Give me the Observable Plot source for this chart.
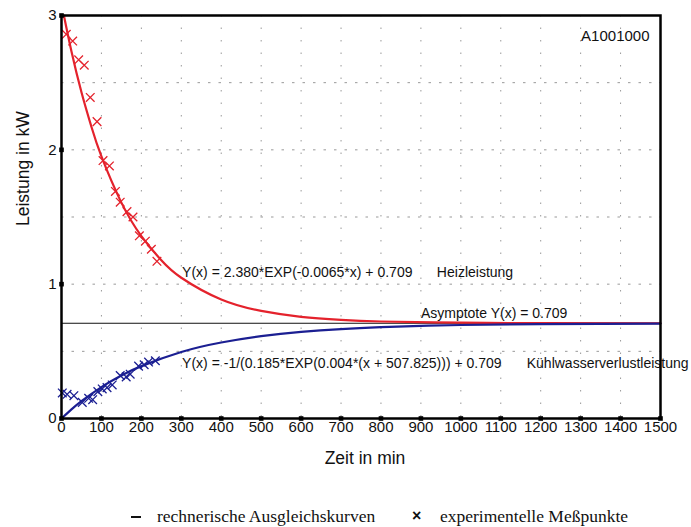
<!DOCTYPE html>
<html><head><meta charset="utf-8">
<script src="https://cdn.jsdelivr.net/npm/d3@7"></script>
<script src="https://cdn.jsdelivr.net/npm/@observablehq/plot@0.6"></script>
<style>
body{margin:0;background:#fff;position:relative;width:691px;height:527px;overflow:hidden;}
.lg{position:absolute;top:505px;font-family:"Liberation Serif","Times New Roman",serif;font-size:17.5px;line-height:22px;color:#111;white-space:nowrap;}
.dash{position:absolute;top:516px;left:131px;width:10px;height:0;border-top:2.6px solid #111;}
.cross{font-family:"Liberation Sans",Arial,sans-serif;font-size:16px;font-weight:bold;}
</style>
</head><body>
<div id="chart"></div>
<div class="dash"></div>
<div class="lg" style="left:157px" id="lg1"></div>
<div class="lg cross" style="left:412px">×</div>
<div class="lg" style="left:440px" id="lg2"></div>
<script>
const heatX = [12, 28, 43, 57, 72, 89, 104, 120, 135, 147, 164, 179, 195, 210, 225, 239];
const heatY = [2.86, 2.81, 2.67, 2.63, 2.39, 2.21, 1.92, 1.88, 1.69, 1.61, 1.54, 1.50, 1.36, 1.32, 1.26, 1.17];
const coolX = [2, 14, 31, 52, 68, 78, 91, 102, 114, 127, 147, 162, 172, 193, 207, 218, 235];
const coolY = [0.19, 0.18, 0.17, 0.12, 0.15, 0.14, 0.20, 0.22, 0.23, 0.25, 0.32, 0.31, 0.33, 0.39, 0.40, 0.42, 0.43];
// Fitted curves
const heatCurveX = [6, 25, 50, 75, 100, 150, 200, 250, 300, 400, 500, 600, 700, 800, 1000, 1200, 1500];
const heatCurveY = [3.0, 2.732, 2.429, 2.171, 1.951, 1.607, 1.358, 1.178, 1.048, 0.886, 0.801, 0.757, 0.734, 0.722, 0.713, 0.710, 0.709];
const coolCurveX = [0, 25, 50, 100, 150, 200, 300, 400, 500, 600, 700, 800, 900, 1000, 1200, 1500];
const coolCurveY = [0, 0.0675, 0.1285, 0.2337, 0.320, 0.390, 0.4955, 0.566, 0.613, 0.645, 0.666, 0.680, 0.690, 0.696, 0.703, 0.707];
const asymptote = 0.709;
// Ticks and labels
const xTicks = d3.range(0, 1501, 100);
const yTicks = [0, 1, 2, 3];
const xGrid = d3.range(100, 1500, 100);
const yGrid = [0.5, 1, 1.5, 2, 2.5];
const annotations = [
  {x: 302, y: 1.085, text: "Y(x) = 2.380*EXP(-0.0065*x) + 0.709"},
  {x: 940, y: 1.085, text: "Heizleistung"},
  {x: 900, y: 0.78, text: "Asymptote Y(x) = 0.709"},
  {x: 302, y: 0.41, text: "Y(x) = -1/(0.185*EXP(0.004*(x + 507.825))) + 0.709"},
  {x: 1165, y: 0.41, text: "Kühlwasserverlustleistung"}
];
const title = "A1001000";
const xLabel = "Zeit in min";
const yLabel = "Leistung in kW";
const legendLabels = ["rechnerische Ausgleichskurven", "experimentelle Meßpunkte"];

document.getElementById("lg1").textContent = legendLabels[0];
document.getElementById("lg2").textContent = legendLabels[1];

const red = "#e4222c", blue = "#1b1f92";
const heat = heatX.map((x, i) => ({x, y: heatY[i]}));
const cool = coolX.map((x, i) => ({x, y: coolY[i]}));
const heatC = heatCurveX.map((x, i) => ({x, y: heatCurveY[i]}));
const coolC = coolCurveX.map((x, i) => ({x, y: coolCurveY[i]}));

const plot = Plot.plot({
  width: 691, height: 480,
  marginLeft: 61, marginRight: 31, marginTop: 15, marginBottom: 62,
  style: {fontFamily: "'Liberation Sans', Arial, sans-serif", fontSize: "15px", color: "#111", background: "#fff"},
  x: {domain: [0, 1500]},
  y: {domain: [0, 3]},
  marks: [
    Plot.ruleX(xGrid, {stroke: "#999", strokeDasharray: "1.5,11", strokeWidth: 1}),
    Plot.ruleY(yGrid, {stroke: "#999", strokeDasharray: "2.5,8", strokeWidth: 1}),
    Plot.ruleY([asymptote], {stroke: "#111", strokeWidth: 1}),
    Plot.line(heatC, {x: "x", y: "y", stroke: red, strokeWidth: 2.2, curve: "natural"}),
    Plot.line(coolC, {x: "x", y: "y", stroke: blue, strokeWidth: 2.2, curve: "natural"}),
    Plot.dot(heat, {x: "x", y: "y", symbol: "times", r: 4, stroke: red, strokeWidth: 1.3}),
    Plot.dot(cool, {x: "x", y: "y", symbol: "times", r: 4, stroke: blue, strokeWidth: 1.3}),
    Plot.text(annotations, {x: "x", y: "y", text: "text", textAnchor: "start", fontSize: 14, fill: "#111"}),
    Plot.text([title], {frameAnchor: "top-right", dx: -11, dy: 15, fontSize: 15, fill: "#111"}),
    Plot.frame({stroke: "#000", strokeWidth: 2.5}),
    Plot.dot(xTicks.filter(d => d > 0), {x: d => d, y: 0, symbol: "square", r: 2.6, fill: "#000"}),
    Plot.dot(yTicks, {x: 0, y: d => d, symbol: "square", r: 2.6, fill: "#000"}),
    Plot.axisX(xTicks, {tickSize: 0, tickPadding: 3, tickFormat: d => String(d), fontSize: 15, label: null}),
    Plot.axisY(yTicks, {tickSize: 0, tickPadding: 5, tickFormat: d => String(d), fontSize: 15, label: null}),
    Plot.text([xLabel], {frameAnchor: "bottom", dx: 4, dy: 45, fontSize: 17.5, fill: "#111"}),
    Plot.text([yLabel], {frameAnchor: "left", dx: -38, dy: 9, rotate: -90, fontSize: 17.5, fill: "#111"})
  ]
});
document.getElementById("chart").appendChild(plot);
</script>
</body></html>
